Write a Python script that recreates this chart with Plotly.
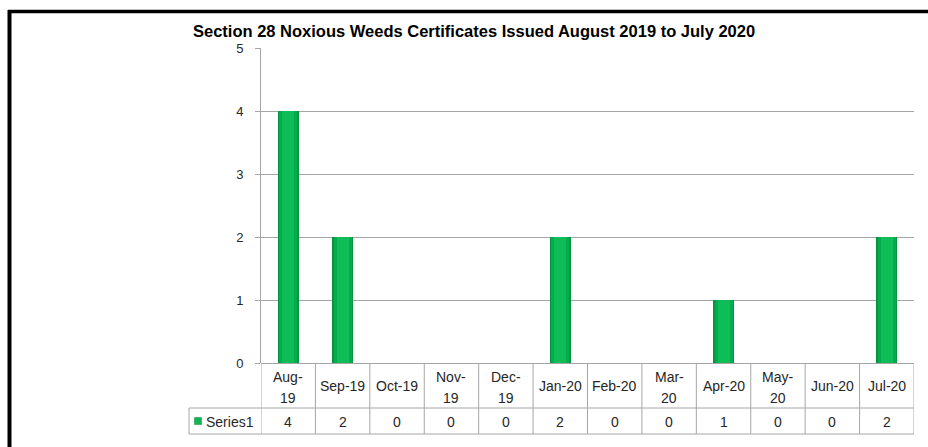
import plotly.graph_objects as go

categories = ["Aug-19", "Sep-19", "Oct-19", "Nov-19", "Dec-19", "Jan-20",
              "Feb-20", "Mar-20", "Apr-20", "May-20", "Jun-20", "Jul-20"]
header_labels = ["Aug-<br>19", "Sep-19", "Oct-19", "Nov-<br>19", "Dec-<br>19", "Jan-20",
                 "Feb-20", "Mar-<br>20", "Apr-20", "May-<br>20", "Jun-20", "Jul-20"]
series_name = "Series1"
values = [4, 2, 0, 0, 0, 2, 0, 0, 1, 0, 0, 2]
y_ticks = [0, 1, 2, 3, 4, 5]
title = "Section 28 Noxious Weeds Certificates Issued August 2019 to July 2020"

W, H = 928, 447
FONT = "Liberation Sans, Arial, sans-serif"
GRID = "#a6a6a6"
TXT = "#262626"

def px(x):
    return x / W

def py(y):
    return (H - y) / H

x_left, x_right = 261, 914
y_top, y_zero = 48, 363
row1_bottom, row2_bottom = 408, 434
legend_left = 189

idx = list(range(len(categories)))
n = len(categories)

fig = go.Figure()
fig.add_trace(go.Bar(
    x=idx, y=values, width=0.39,
    marker=dict(color="#07933f", line=dict(width=0)),
    name=series_name, showlegend=False, hoverinfo="skip",
))
fig.add_trace(go.Bar(
    x=idx, y=values, width=0.33,
    marker=dict(color="#03ac4c", line=dict(width=0)),
    showlegend=False, hoverinfo="skip",
))
fig.add_trace(go.Bar(
    x=idx, y=values, width=0.22,
    marker=dict(color="#0fbd58", line=dict(width=0)),
    showlegend=False, hoverinfo="skip",
))

shapes = []
shapes.append(dict(type="line", xref="paper", yref="paper",
                   x0=px(9.5), x1=px(9.5), y0=py(10), y1=py(447),
                   line=dict(color="black", width=4)))
shapes.append(dict(type="line", xref="paper", yref="paper",
                   x0=px(8), x1=px(928), y0=py(11.5), y1=py(11.5),
                   line=dict(color="black", width=3.5)))

for k in range(n + 1):
    shapes.append(dict(type="line", xref="x", yref="paper",
                       x0=k - 0.5, x1=k - 0.5, y0=py(y_zero), y1=py(row2_bottom),
                       line=dict(color=GRID, width=1)))
for yy in (row1_bottom, row2_bottom):
    shapes.append(dict(type="line", xref="paper", yref="paper",
                       x0=px(legend_left), x1=px(x_right), y0=py(yy), y1=py(yy),
                       line=dict(color=GRID, width=1)))
shapes.append(dict(type="line", xref="paper", yref="paper",
                   x0=px(legend_left), x1=px(legend_left), y0=py(row1_bottom), y1=py(row2_bottom),
                   line=dict(color=GRID, width=1)))
shapes.append(dict(type="rect", xref="paper", yref="paper",
                   x0=px(194.5), x1=px(201.5), y0=py(424.5), y1=py(417.5),
                   fillcolor="#10b552", line=dict(color="#0a8f3f", width=0.5)))

annotations = []
annotations.append(dict(text="<b>" + title + "</b>", xref="paper", yref="paper",
                        x=px(473.5), y=py(31), showarrow=False,
                        font=dict(family=FONT, size=16.5, color="black"),
                        xanchor="center", yanchor="middle"))
for i, lab in enumerate(header_labels):
    parts = lab.split("<br>")
    if len(parts) == 1:
        ys = [386]
    else:
        ys = [376.5, 397.5]
    for part, yy in zip(parts, ys):
        annotations.append(dict(text=part, xref="x", yref="paper", x=i,
                                y=py(yy), showarrow=False,
                                font=dict(family=FONT, size=14, color=TXT),
                                xanchor="center", yanchor="middle"))
    annotations.append(dict(text=str(values[i]), xref="x", yref="paper", x=i,
                            y=py(421.5), showarrow=False,
                            font=dict(family=FONT, size=14, color=TXT),
                            xanchor="center", yanchor="middle"))
annotations.append(dict(text=series_name, xref="paper", yref="paper",
                        x=px(203.5), y=py(421.5), showarrow=False,
                        font=dict(family=FONT, size=14, color=TXT),
                        xanchor="left", yanchor="middle"))

fig.update_layout(
    width=W, height=H, autosize=False,
    margin=dict(l=0, r=0, t=0, b=0, pad=0, autoexpand=False),
    paper_bgcolor="white", plot_bgcolor="white",
    barmode="overlay", bargap=0,
    showlegend=False,
    shapes=shapes, annotations=annotations,
    xaxis=dict(domain=[px(x_left), px(x_right)], range=[-0.5, n - 0.5],
               showticklabels=False, ticks="", showgrid=False, zeroline=False,
               showline=False, fixedrange=True, automargin=False),
    yaxis=dict(domain=[py(y_zero), py(y_top)], range=[0, 5],
               tickvals=y_ticks, ticks="outside", ticklen=5, tickcolor=GRID,
               showgrid=True, gridcolor=GRID, gridwidth=1,
               showline=True, linecolor=GRID, linewidth=1,
               zeroline=True, zerolinecolor=GRID, zerolinewidth=1,
               tickfont=dict(family=FONT, size=13, color=TXT),
               ticklabelstandoff=9, fixedrange=True, automargin=False),
)

fig.write_html("out.html", config={"displayModeBar": False},
               post_script="document.body.style.margin='0';document.body.style.overflow='hidden';")
